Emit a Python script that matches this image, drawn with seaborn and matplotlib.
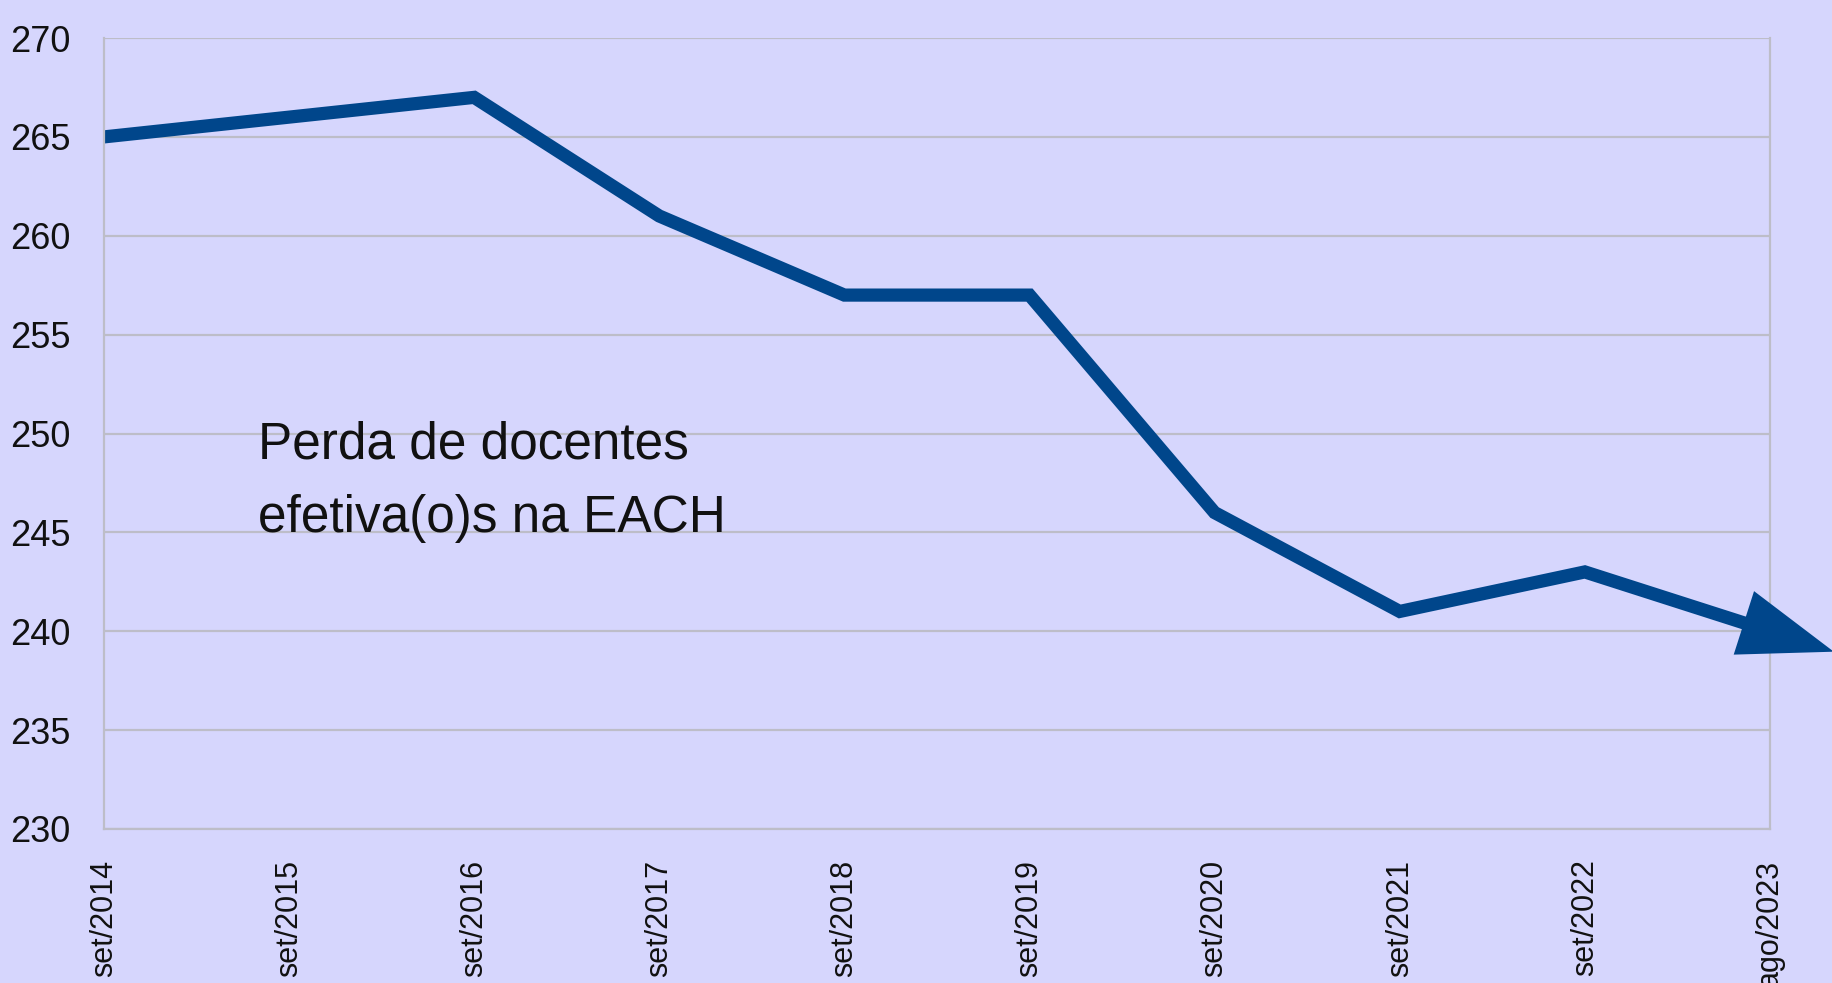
import pandas as pd
import matplotlib
matplotlib.use("Agg")
import matplotlib.pyplot as plt
import seaborn as sns

# Data
periods = ["set/2014", "set/2015", "set/2016", "set/2017", "set/2018",
           "set/2019", "set/2020", "set/2021", "set/2022", "ago/2023"]
docentes = [265, 266, 267, 261, 257, 257, 246, 241, 243, 240]
y_ticks = [230, 235, 240, 245, 250, 255, 260, 265, 270]
note_lines = ["Perda de docentes", "efetiva(o)s na EACH"]

df = pd.DataFrame({"pos": range(len(periods)), "periodo": periods, "docentes": docentes})

bg = "#D6D6FD"
line_color = "#00468B"
grid_color = "#BDBDC8"

sns.set_style("white")
plt.rcParams['font.family'] = ['Liberation Sans', 'DejaVu Sans']

fig = plt.figure(figsize=(18.33, 9.83), dpi=100)
fig.patch.set_facecolor(bg)
ax = fig.add_axes([0.0567, 0.1567, 0.9089, 0.8046])
ax.set_facecolor(bg)

sns.lineplot(data=df, x="pos", y="docentes", ax=ax, color=line_color,
             linewidth=9.5, solid_joinstyle="miter", solid_capstyle="butt")

# arrow head continuing the last segment
last = len(docentes) - 1
slope = docentes[last] - docentes[last - 1]
ax.annotate("", xy=(last + 0.345, docentes[last] + slope * 0.345),
            xytext=(last - 0.12, docentes[last] - slope * 0.12),
            arrowprops=dict(arrowstyle="-|>,head_length=0.85,head_width=0.3",
                            mutation_scale=80, color=line_color, lw=0,
                            shrinkA=0, shrinkB=0),
            annotation_clip=False)

ax.set_xlim(0, last)
ax.set_ylim(230, 270)
ax.set_yticks(y_ticks)
ax.set_xticks(df["pos"])
ax.set_xticklabels(periods, rotation=90, fontsize=22)
ax.tick_params(axis="y", labelsize=26, length=12, width=1.5, color=grid_color,
               pad=12, labelcolor="#111111")
ax.tick_params(axis="x", length=12, width=1.5, color=grid_color, pad=10,
               labelcolor="#111111")
ax.yaxis.grid(True, color=grid_color, linewidth=1.6)
ax.set_axisbelow(True)
for side in ["left", "bottom", "right"]:
    ax.spines[side].set_color(grid_color)
    ax.spines[side].set_linewidth(1.6)
ax.spines["top"].set_visible(False)
ax.set_xlabel("")
ax.set_ylabel("")

for line, yb in zip(note_lines, [0.469, 0.375]):
    ax.text(0.0925, yb, line, transform=ax.transAxes, fontsize=37,
            va="baseline", ha="left", color="#111111")

fig.savefig("out.png", dpi=100, facecolor=bg)
